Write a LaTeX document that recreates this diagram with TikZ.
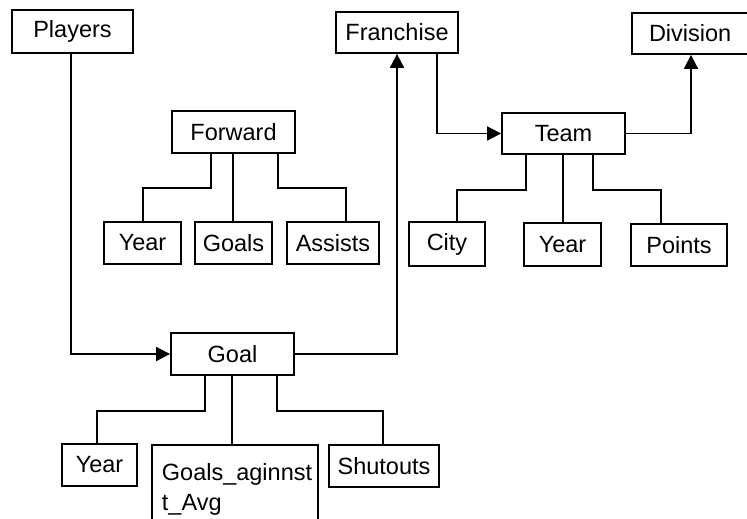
\documentclass[tikz,border=0pt]{standalone}
\usepackage{fontspec}
\setmainfont{Liberation Sans}
\usetikzlibrary{arrows.meta}
\begin{document}
\begin{tikzpicture}[x=1pt,y=-1pt,
  ent/.style={draw,line width=1.8pt,inner sep=0pt,font=\fontsize{23.5}{30}\selectfont},
  link/.style={line width=1.8pt},
  arr/.style={link,-{Triangle[length=14pt,width=14pt]}}]
\useasboundingbox (0,0) rectangle (747,519);
% entity boxes: centre, width, height
\node[ent,minimum width=121pt,minimum height=43pt] (players)  at (72.5,31.5)  {Players};
\node[ent,minimum width=122pt,minimum height=41pt] (franch)   at (397,32.5)   {Franchise};
\node[ent,minimum width=130pt,minimum height=41pt,text width=130pt,align=left] (division) at (697,33.5) {\hspace{17pt}Division};
\node[ent,minimum width=123pt,minimum height=42pt] (forward)  at (233.5,132)  {Forward};
\node[ent,minimum width=123pt,minimum height=41pt] (team)     at (563.5,133.5){Team};
\node[ent,minimum width=77pt,minimum height=42pt]  (fyear)    at (142.5,243)  {Year};
\node[ent,minimum width=77pt,minimum height=42pt]  (fgoals)   at (233.5,243)  {Goals};
\node[ent,minimum width=92pt,minimum height=42pt]  (fassist)  at (333,243)    {Assists};
\node[ent,minimum width=76pt,minimum height=44pt]  (tcity)    at (447,244)    {City};
\node[ent,minimum width=77pt,minimum height=43pt]  (tyear)    at (562.5,244.5){Year};
\node[ent,minimum width=96pt,minimum height=42pt]  (tpoints)  at (679,245)    {Points};
\node[ent,minimum width=123pt,minimum height=42pt] (goal)     at (232.5,354)  {Goal};
\node[ent,minimum width=75pt,minimum height=42pt]  (gyear)    at (99.5,465)   {Year};
\node[ent,minimum width=110pt,minimum height=42pt] (gshut)    at (384,466)    {Shutouts};
% open-ended box: its lower edge lies below the page
\node[ent,anchor=north west,inner xsep=10pt,inner ysep=15pt] (gavg) at (151,444)
      {\parbox[t][80pt][t]{146pt}{\raggedright\strut Goals\_aginnst\\t\_Avg}};
% relationships between entities
\draw[arr] (players.south -| 71,0) |- (goal.west);
\draw[arr] (goal.east) -| (franch.south -| 397,0);
\draw[arr] (franch.south -| 437,0) |- (team.west);
\draw[arr] (team.east) -| (division.south -| 691,0);
% attribute branches of Forward
\draw[link] (forward.south -| 211,0) |- (143,188) -- (fyear.north -| 143,0);
\draw[link] (forward.south -| 233,0) -- (fgoals.north -| 233,0);
\draw[link] (forward.south -| 278,0) |- (346,188) -- (fassist.north -| 346,0);
% attribute branches of Team
\draw[link] (team.south -| 526,0) |- (457,190) -- (tcity.north -| 457,0);
\draw[link] (team.south -| 563,0) -- (tyear.north -| 563,0);
\draw[link] (team.south -| 593,0) |- (661,190) -- (tpoints.north -| 661,0);
% attribute branches of Goal
\draw[link] (goal.south -| 205,0) |- (97,411) -- (gyear.north -| 97,0);
\draw[link] (goal.south -| 232,0) -- (gavg.north -| 232,0);
\draw[link] (goal.south -| 277,0) |- (383,411) -- (gshut.north -| 383,0);
\end{tikzpicture}
\end{document}
